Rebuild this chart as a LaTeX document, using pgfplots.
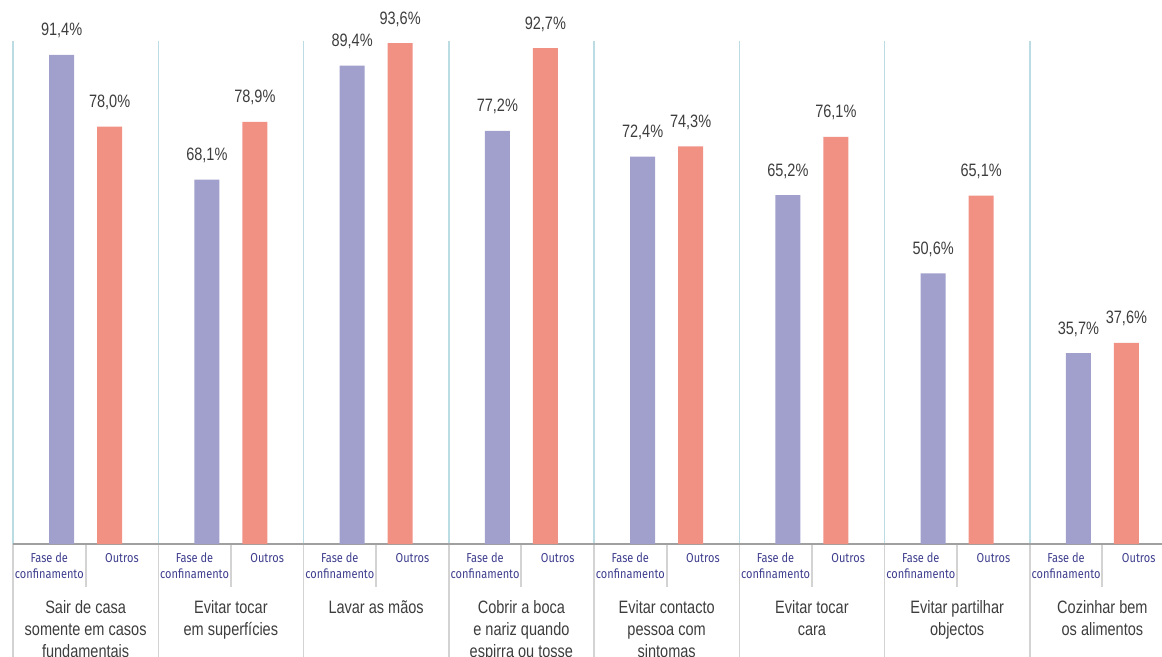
\documentclass[border=0pt]{standalone}
\usepackage{pgfplots}
\pgfplotsset{compat=1.18}
\usepackage{fontspec}
\newfontfamily\valfont[FakeStretch=0.81]{Liberation Sans}
\newfontfamily\subfont[FakeStretch=0.85]{Fira Sans}
\definecolor{cpurple}{HTML}{A19FCB}
\definecolor{cpink}{HTML}{F09184}
\definecolor{csep}{HTML}{BADCE2}
\definecolor{cgsep}{HTML}{D3D3D3}
\definecolor{cbase}{HTML}{A0A0A0}
\definecolor{ctext}{HTML}{3D3D3D}
\definecolor{csub}{HTML}{3E3E8E}
\begin{document}
\begin{tikzpicture}
\useasboundingbox (0bp,-113bp) rectangle (1162bp,544bp);
\begin{axis}[
  at={(13bp,0bp)}, anchor=south west,
  scale only axis,
  width=1149bp, height=544bp,
  xmin=-0.5, xmax=7.4105,
  ymin=0, ymax=101.68,
  axis lines=none,
  ybar, bar width=25bp,
  clip=false,
  nodes near coords={\pgfmathprintnumber[fixed,fixed zerofill,precision=1,use comma]{\pgfplotspointmeta}\%},
  every node near coord/.append style={font=\valfont\fontsize{18}{20}\selectfont, text=ctext, anchor=base, yshift=19bp, inner sep=0pt},
  /pgf/number format/assume math mode=true,
]
% separators
\pgfplotsinvokeforeach{-0.5,0.5,1.5,2.5,3.5,4.5,5.5,6.5}{
  \draw[csep, line width=1.5bp] (axis cs:#1,94.0) -- (axis cs:#1,0);
  \draw[cgsep, line width=1.5bp] (axis cs:#1,0) -- ([yshift=-113bp]axis cs:#1,0);
}
\pgfplotsinvokeforeach{0,1,...,7}{
  \draw[cgsep, line width=2bp] (axis cs:#1,0) -- ([yshift=-43bp]axis cs:#1,0);
  \node[font=\subfont\fontsize{13}{16}\selectfont, text=csub, align=center, anchor=north, inner sep=0pt] at ([yshift=-9bp]axis cs:#1-0.25,0) {Fase de\\confinamento};
  \node[font=\subfont\fontsize{13}{16}\selectfont, text=csub, anchor=north, inner sep=0pt] at ([yshift=-9bp]axis cs:#1+0.25,0) {Outros};
}
\draw[cbase, line width=2bp] (axis cs:-0.5,0) -- (axis cs:7.4105,0);
\addplot[fill=cpurple, draw=none, bar shift=-24bp] coordinates {
 (0,91.4) (1,68.1) (2,89.4) (3,77.2) (4,72.4) (5,65.2) (6,50.6) (7,35.7)};
\addplot[fill=cpink, draw=none, bar shift=24bp] coordinates {
 (0,78.0) (1,78.9) (2,93.6) (3,92.7) (4,74.3) (5,76.1) (6,65.1) (7,37.6)};
% category labels
\tikzset{cat/.style={font=\valfont\fontsize{18}{22}\selectfont, text=ctext, align=center, anchor=north, inner sep=0pt}}
\node[cat] at ([yshift=-56bp]axis cs:0,0) {Sair de casa\\somente em casos\\fundamentais};
\node[cat] at ([yshift=-56bp]axis cs:1,0) {Evitar tocar\\em superfícies};
\node[cat] at ([yshift=-56bp]axis cs:2,0) {Lavar as mãos};
\node[cat] at ([yshift=-56bp]axis cs:3,0) {Cobrir a boca\\e nariz quando\\espirra ou tosse};
\node[cat] at ([yshift=-56bp]axis cs:4,0) {Evitar contacto\\pessoa com\\sintomas};
\node[cat] at ([yshift=-56bp]axis cs:5,0) {Evitar tocar\\cara};
\node[cat] at ([yshift=-56bp]axis cs:6,0) {Evitar partilhar\\objectos};
\node[cat] at ([yshift=-56bp]axis cs:7,0) {Cozinhar bem\\os alimentos};
\end{axis}
\end{tikzpicture}
\end{document}
